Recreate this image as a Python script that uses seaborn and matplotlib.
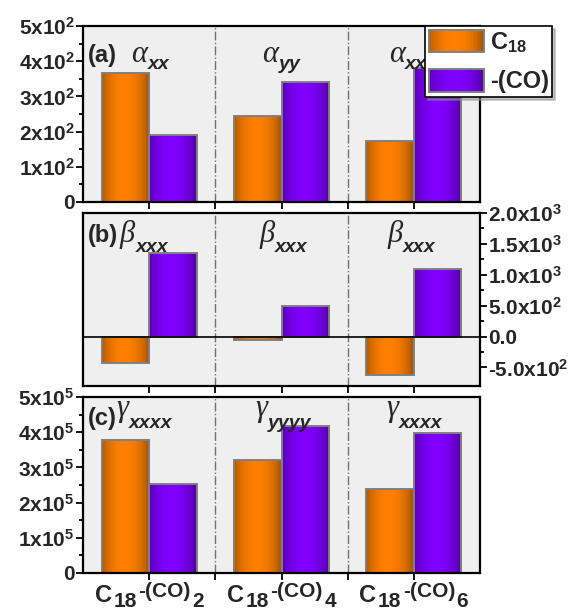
import numpy as np
import pandas as pd
import matplotlib
matplotlib.use("Agg")
import matplotlib.pyplot as plt
import seaborn as sns
from matplotlib.legend_handler import HandlerBase
from matplotlib.patches import Rectangle

# ---- data -------------------------------------------------------------
molecules = ["C18-(CO)2", "C18-(CO)4", "C18-(CO)6"]
series = ["C18", "-(CO)"]

alpha_c18 = [367, 245, 174]
alpha_co = [190, 342, 380]

beta_c18 = [-420, -50, -625]
beta_co = [1345, 495, 1090]

gamma_c18 = [3.78e5, 3.20e5, 2.38e5]
gamma_co = [2.52e5, 4.19e5, 3.97e5]

alpha_sub = ["xx", "yy", "xx"]
beta_sub = ["xxx", "xxx", "xxx"]
gamma_sub = ["xxxx", "yyyy", "xxxx"]

# x labels are written as  C  18  -(CO)  n  (main, sub, raised, sub)
label_core = "C"
label_core_sub = "18"
label_group = "-(CO)"
label_counts = ["2", "4", "6"]

alpha_ticks = [0, 100, 200, 300, 400, 500]
alpha_ticklabels = ["0", r"1x10$^2$", r"2x10$^2$", r"3x10$^2$", r"4x10$^2$", r"5x10$^2$"]
beta_ticks = [-500, 0, 500, 1000, 1500, 2000]
beta_ticklabels = [r"-5.0x10$^2$", "0.0", r"5.0x10$^2$", r"1.0x10$^3$", r"1.5x10$^3$", r"2.0x10$^3$"]
gamma_ticks = [0, 1e5, 2e5, 3e5, 4e5, 5e5]
gamma_ticklabels = ["0", r"1x10$^5$", r"2x10$^5$", r"3x10$^5$", r"4x10$^5$", r"5x10$^5$"]

colors = ["#ff8000", "#8000ff"]

# ---- style ------------------------------------------------------------
sns.set_theme(style="ticks")
plt.rcParams["font.family"] = ["Liberation Sans", "DejaVu Sans"]
plt.rcParams["font.weight"] = "bold"
plt.rcParams["mathtext.fontset"] = "custom"
plt.rcParams["mathtext.rm"] = "Liberation Sans:bold"
plt.rcParams["mathtext.bf"] = "Liberation Sans:bold"
plt.rcParams["mathtext.it"] = "Liberation Sans:bold:italic"

W, H = 578, 612
fig = plt.figure(figsize=(W / 100, H / 100), dpi=100)


def frac_box(x0, y0, x1, y1):
    return [x0 / W, 1 - y1 / H, (x1 - x0) / W, (y1 - y0) / H]


ax_a = fig.add_axes(frac_box(83, 26, 480, 202))
ax_b = fig.add_axes(frac_box(83, 213, 480, 386))
ax_c = fig.add_axes(frac_box(83, 397, 480, 573))


def long_frame(c18, co):
    return pd.DataFrame({
        "molecule": molecules * 2,
        "series": [series[0]] * 3 + [series[1]] * 3,
        "value": list(c18) + list(co),
    })


def shade_profile(t):
    return 0.68 + 0.32 * np.sin(np.pi * np.clip(t * 1.05, 0, 1)) ** 0.7


def shade_bars(ax):
    # horizontal dark-bright-dark shading on every bar
    t = np.linspace(0, 1, 64)
    prof = shade_profile(t)
    for p in list(ax.patches):
        base = np.array(p.get_facecolor()[:3])
        img = base[None, None, :] * prof[None, :, None]
        x0, y0 = p.get_x(), p.get_y()
        w, h = p.get_width(), p.get_height()
        im = ax.imshow(img, extent=[x0, x0 + w, min(y0, y0 + h), max(y0, y0 + h)],
                       aspect="auto", interpolation="bilinear", zorder=p.get_zorder())
        im.set_clip_path(p)
        p.set_facecolor("none")
        p.set_zorder(p.get_zorder() + 0.1)


def draw_panel(ax, c18, co, ylim, ticks, ticklabels, right=False):
    df = long_frame(c18, co)
    sns.barplot(data=df, x="molecule", y="value", hue="series", order=molecules,
                hue_order=series, palette=colors, width=0.72, ax=ax, legend=False,
                edgecolor="#808080", linewidth=1.4, saturation=1, errorbar=None)
    shade_bars(ax)
    ax.set_facecolor("#efefef")
    ax.set_xlim(-0.5, 2.5)
    ax.set_ylim(*ylim)
    ax.set_xlabel("")
    ax.set_ylabel("")
    for xv in (0.5, 1.5):
        ax.axvline(xv, color="#707070", lw=1.0, ls="-.", zorder=0.5)
    ax.set_xticks([0, 1, 2])
    ax.set_xticks([0.5, 1.5], minor=True)
    ax.set_xticklabels([])
    ax.set_yticks(ticks)
    ax.set_yticklabels(ticklabels)
    mids = [(a + b) / 2 for a, b in zip(ticks[:-1], ticks[1:])]
    ax.set_yticks(mids, minor=True)
    for s in ax.spines.values():
        s.set_visible(True)
        s.set_color("black")
        s.set_linewidth(1.6)
    ax.tick_params(axis="both", which="both", direction="out", color="black",
                   width=1.3, labelsize=15, pad=1)
    ax.tick_params(axis="both", which="major", length=5)
    ax.tick_params(axis="both", which="minor", length=3)
    ax.tick_params(axis="x", which="minor", length=5)
    if right:
        ax.yaxis.tick_right()
        ax.yaxis.set_label_position("right")
    for lab in ax.get_yticklabels():
        lab.set_fontweight("bold")


draw_panel(ax_a, alpha_c18, alpha_co, (0, 500), alpha_ticks, alpha_ticklabels)
draw_panel(ax_b, beta_c18, beta_co, (-800, 2000), beta_ticks, beta_ticklabels, right=True)
draw_panel(ax_c, gamma_c18, gamma_co, (0, 5e5), gamma_ticks, gamma_ticklabels)

ax_b.axhline(0, color="black", lw=1.2, zorder=3)

# ---- category labels under the bottom panel ---------------------------
renderer = fig.canvas.get_renderer()
PX2PT = 72 / 100
for i, n in enumerate(label_counts):
    pieces = [(label_core, 17, -29), (label_core_sub, 15, -34),
              (label_group, 15, -24), (n, 15, -34)]
    texts = []
    for s, size, dy in pieces:
        t = ax_c.annotate(s, xy=(i, 0), xycoords=ax_c.get_xaxis_transform(),
                          xytext=(0, dy * PX2PT), textcoords="offset points",
                          fontsize=size, fontweight="bold", ha="left", va="baseline",
                          annotation_clip=False)
        texts.append(t)
    widths = [t.get_window_extent(renderer).width for t in texts]
    gap = 1.5
    total = sum(widths) + gap * (len(widths) - 1)
    cur = -total / 2
    for t, w, (s, size, dy) in zip(texts, widths, pieces):
        t.xyann = (cur * PX2PT, dy * PX2PT)
        cur += w + gap


# ---- panel tags and tensor components --------------------------------
def tensor_labels(ax, tag, greek, subs, tag_y, greek_y, dx, sub_dy):
    ax.text(0.012, tag_y, tag, transform=ax.transAxes, fontsize=17, fontweight="bold",
            va="baseline", ha="left", zorder=6)
    for i, sub in enumerate(subs):
        g = ax.text(i + dx[i], greek_y, greek, transform=ax.get_xaxis_transform(),
                    fontsize=22, family="Liberation Serif", style="italic",
                    fontweight="normal", va="baseline", ha="left", zorder=6)
        ax.annotate(sub, xy=(1.0, 0.0), xycoords=g, xytext=(0.3, sub_dy),
                    textcoords="offset points", fontsize=14, fontweight="bold",
                    style="italic", va="baseline", ha="left", zorder=6)


tensor_labels(ax_a, "(a)", "\u03b1", alpha_sub, 0.795, 0.795,
              [-0.136, -0.144, -0.19], 0.0)
tensor_labels(ax_b, "(b)", "\u03b2", beta_sub, 0.832, 0.83,
              [-0.222, -0.17, -0.20], -1.7)
tensor_labels(ax_c, "(c)", "\u03b3", gamma_sub, 0.84, 0.89,
              [-0.245, -0.20, -0.21], -3.2)


# ---- legend with shaded swatches --------------------------------------
class ShadedHandler(HandlerBase):
    def create_artists(self, legend, orig_handle, xdescent, ydescent, width,
                       height, fontsize, trans):
        base = np.array(orig_handle.get_facecolor()[:3])
        n = 40
        arts = []
        for i in range(n):
            f = shade_profile((i + 0.5) / n)
            r = Rectangle((-xdescent + i * width / n, -ydescent), width / n + 0.3,
                          height, facecolor=base * f, edgecolor="none", transform=trans)
            arts.append(r)
        arts.append(Rectangle((-xdescent, -ydescent), width, height, facecolor="none",
                              edgecolor="#808080", lw=1.4, transform=trans))
        return arts


handles = [Rectangle((0, 0), 1, 1, facecolor=c) for c in colors]
leg = fig.legend(handles, [r"C$_{\mathregular{18}}$", "-(CO)"],
                 handler_map={h: ShadedHandler() for h in handles},
                 loc="upper left", bbox_to_anchor=(425 / W, 1 - 26 / H),
                 borderaxespad=0, frameon=True, fancybox=False,
                 shadow={"ox": 2, "oy": -2, "color": "0.55"},
                 prop={"size": 17, "weight": "bold"}, handlelength=2.35,
                 handleheight=1.1, handletextpad=0.25, borderpad=0.15,
                 labelspacing=0.6)
leg.get_frame().set_edgecolor("black")
leg.get_frame().set_linewidth(1.2)
leg.set_zorder(10)

fig.savefig("out.png", dpi=100)
